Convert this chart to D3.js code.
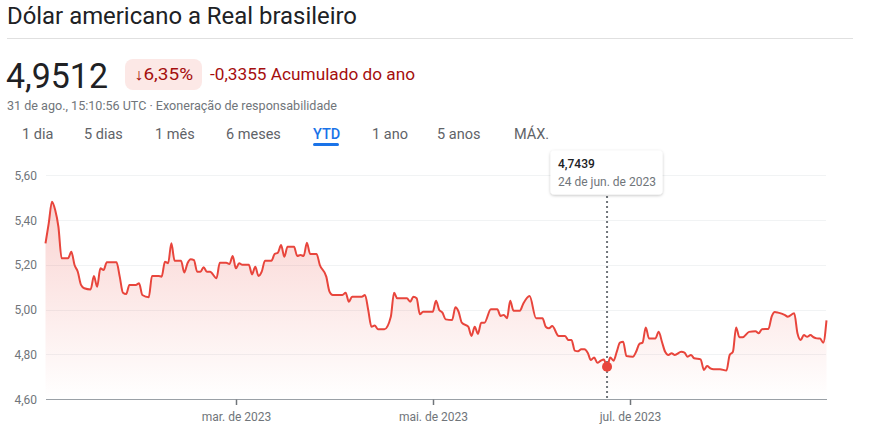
<!DOCTYPE html>
<html><head><meta charset="utf-8">
<script src="https://cdn.jsdelivr.net/npm/d3@7"></script>
<style>
html,body{margin:0;padding:0;background:#fff;}
svg{display:block;font-family:Roboto,Arial,sans-serif;}
</style></head>
<body><svg id="c" width="878" height="424"></svg>
<script>
const title = "Dólar americano a Real brasileiro";
const price = "4,9512";
const changePct = "↓6,35%";
const changeAbs = "-0,3355 Acumulado do ano";
const subtitle = "31 de ago., 15:10:56 UTC · Exoneração de responsabilidade";
const tabs = ["1 dia","5 dias","1 mês","6 meses","YTD","1 ano","5 anos","MÁX."];
const activeTab = "YTD";

const dates = ["2023-01-01","2023-01-02","2023-01-03","2023-01-04","2023-01-05","2023-01-06","2023-01-08","2023-01-09","2023-01-10","2023-01-11","2023-01-12","2023-01-13","2023-01-15","2023-01-16","2023-01-17","2023-01-18","2023-01-19","2023-01-20","2023-01-23","2023-01-24","2023-01-25","2023-01-26","2023-01-27","2023-01-29","2023-01-30","2023-01-31","2023-02-02","2023-02-03","2023-02-05","2023-02-06","2023-02-07","2023-02-08","2023-02-09","2023-02-10","2023-02-12","2023-02-13","2023-02-14","2023-02-15","2023-02-16","2023-02-17","2023-02-18","2023-02-19","2023-02-20","2023-02-21","2023-02-23","2023-02-24","2023-02-26","2023-02-27","2023-02-28","2023-03-01","2023-03-02","2023-03-03","2023-03-05","2023-03-06","2023-03-07","2023-03-08","2023-03-09","2023-03-10","2023-03-12","2023-03-13","2023-03-14","2023-03-15","2023-03-16","2023-03-17","2023-03-19","2023-03-20","2023-03-21","2023-03-22","2023-03-23","2023-03-24","2023-03-25","2023-03-26","2023-03-27","2023-03-29","2023-03-30","2023-03-31","2023-04-03","2023-04-04","2023-04-05","2023-04-06","2023-04-09","2023-04-10","2023-04-11","2023-04-12","2023-04-13","2023-04-14","2023-04-16","2023-04-18","2023-04-19","2023-04-20","2023-04-23","2023-04-24","2023-04-25","2023-04-26","2023-04-27","2023-04-28","2023-05-01","2023-05-02","2023-05-03","2023-05-04","2023-05-05","2023-05-07","2023-05-08","2023-05-09","2023-05-10","2023-05-12","2023-05-13","2023-05-14","2023-05-15","2023-05-16","2023-05-17","2023-05-19","2023-05-21","2023-05-22","2023-05-23","2023-05-24","2023-05-25","2023-05-26","2023-05-28","2023-05-29","2023-05-31","2023-06-02","2023-06-04","2023-06-05","2023-06-06","2023-06-07","2023-06-09","2023-06-11","2023-06-12","2023-06-13","2023-06-14","2023-06-15","2023-06-16","2023-06-17","2023-06-18","2023-06-19","2023-06-20","2023-06-21","2023-06-22","2023-06-23","2023-06-24","2023-06-25","2023-06-26","2023-06-27","2023-06-28","2023-06-29","2023-06-30","2023-07-02","2023-07-03","2023-07-04","2023-07-05","2023-07-06","2023-07-07","2023-07-09","2023-07-10","2023-07-11","2023-07-12","2023-07-13","2023-07-14","2023-07-15","2023-07-17","2023-07-18","2023-07-19","2023-07-20","2023-07-21","2023-07-23","2023-07-24","2023-07-25","2023-07-26","2023-07-27","2023-07-29","2023-07-31","2023-08-01","2023-08-02","2023-08-03","2023-08-04","2023-08-05","2023-08-07","2023-08-09","2023-08-10","2023-08-11","2023-08-13","2023-08-14","2023-08-15","2023-08-16","2023-08-18","2023-08-19","2023-08-21","2023-08-22","2023-08-23","2023-08-24","2023-08-25","2023-08-26","2023-08-27","2023-08-28","2023-08-29","2023-08-30","2023-08-31"];
const values = [5.296,5.385,5.482,5.445,5.370,5.229,5.229,5.258,5.199,5.169,5.110,5.095,5.090,5.150,5.102,5.184,5.177,5.211,5.211,5.147,5.075,5.069,5.110,5.110,5.117,5.065,5.055,5.150,5.150,5.147,5.214,5.207,5.296,5.218,5.218,5.165,5.207,5.225,5.221,5.169,5.169,5.189,5.169,5.169,5.140,5.209,5.209,5.203,5.239,5.184,5.207,5.200,5.200,5.157,5.191,5.150,5.169,5.218,5.218,5.248,5.254,5.288,5.236,5.281,5.281,5.239,5.244,5.239,5.299,5.248,5.248,5.248,5.199,5.147,5.080,5.065,5.065,5.075,5.035,5.057,5.057,5.065,4.998,4.923,4.929,4.912,4.912,4.968,5.075,5.050,5.050,5.035,5.057,5.050,4.979,4.990,4.990,5.039,4.998,4.986,4.956,4.953,5.010,4.990,4.941,4.923,4.882,4.923,4.891,4.941,4.941,5.001,5.001,4.971,4.976,4.961,5.039,4.995,4.995,5.025,5.060,4.961,4.961,4.923,4.916,4.926,4.882,4.882,4.864,4.864,4.816,4.813,4.822,4.822,4.807,4.774,4.786,4.762,4.771,4.777,4.7439,4.786,4.771,4.811,4.852,4.856,4.792,4.789,4.811,4.846,4.852,4.920,4.871,4.871,4.901,4.856,4.811,4.797,4.804,4.797,4.811,4.807,4.789,4.797,4.782,4.777,4.730,4.747,4.737,4.733,4.733,4.727,4.797,4.811,4.920,4.876,4.876,4.900,4.903,4.894,4.912,4.913,4.968,4.989,4.986,4.976,4.968,4.983,4.894,4.864,4.886,4.878,4.886,4.876,4.871,4.870,4.852,4.9512];

const yTicks = [4.6,4.8,5.0,5.2,5.4,5.6];
const xTickDates = ["2023-03-01","2023-05-01","2023-07-01"];
const xTickLabels = ["mar. de 2023","mai. de 2023","jul. de 2023"];

const tipDate = "2023-06-24";
const tipValue = "4,7439";
const tipLabel = "24 de jun. de 2023";

const parse = d3.utcParse("%Y-%m-%d");
const data = dates.map((d,i)=>({date:parse(d), value:values[i]}));

const svg = d3.select("#c");
const RED = "#e8453c";

// header
svg.append("text").attr("x",7).attr("y",24).attr("font-size",23).attr("fill","#202124")
  .attr("textLength",350).attr("lengthAdjust","spacingAndGlyphs").text(title);
svg.append("line").attr("x1",7).attr("x2",853).attr("y1",38.5).attr("y2",38.5).attr("stroke","#e0e0e0");
svg.append("text").attr("x",6).attr("y",88).attr("font-size",35).attr("fill","#202124")
  .attr("textLength",102).attr("lengthAdjust","spacingAndGlyphs").text(price);
svg.append("rect").attr("x",125).attr("y",59).attr("width",77).attr("height",31).attr("rx",8).attr("fill","#fce8e6");
svg.append("text").attr("x",134).attr("y",80).attr("font-size",16).attr("fill","#a50e0e")
  .attr("textLength",59).attr("lengthAdjust","spacingAndGlyphs").text(changePct);
svg.append("text").attr("x",210).attr("y",80).attr("font-size",16.5).attr("fill","#a50e0e")
  .attr("textLength",205).attr("lengthAdjust","spacingAndGlyphs").text(changeAbs);
svg.append("text").attr("x",7).attr("y",110).attr("font-size",12).attr("fill","#70757a")
  .attr("textLength",330).attr("lengthAdjust","spacingAndGlyphs").text(subtitle);

const tabX = [22,84,155,226,313,372,437,514];
tabs.forEach((t,i)=>{
  const active = t===activeTab;
  svg.append("text").attr("x",tabX[i]).attr("y",139).attr("font-size",14.5)
    .attr("font-weight",active?500:400)
    .attr("fill",active?"#1a73e8":"#5f6368").text(t);
  if(active) svg.append("rect").attr("x",tabX[i]).attr("y",143).attr("width",26).attr("height",3).attr("rx",1.5).attr("fill","#1a73e8");
});

// chart
const x = d3.scaleUtc().domain([parse("2023-01-01"), parse("2023-08-31")]).range([45.5, 826.5]);
const y = d3.scaleLinear().domain([4.6,5.6]).range([399,175.3]);
const loc = d3.formatLocale({decimal:",",thousands:".",grouping:[3],currency:["R$",""]});
const fy = loc.format(".2f");

const defs = svg.append("defs");
const grad = defs.append("linearGradient").attr("id","g").attr("x1",0).attr("x2",0)
  .attr("gradientUnits","userSpaceOnUse").attr("y1",y(5.5)).attr("y2",y(4.6));
grad.append("stop").attr("offset",0).attr("stop-color",RED).attr("stop-opacity",0.24);
grad.append("stop").attr("offset",1).attr("stop-color",RED).attr("stop-opacity",0);

// grid
svg.append("g").selectAll("line").data(yTicks.filter(v=>v>4.6)).join("line")
  .attr("x1",46).attr("x2",826).attr("y1",d=>Math.round(y(d))+0.5).attr("y2",d=>Math.round(y(d))+0.5)
  .attr("stroke","#f1f3f4");
svg.append("g").selectAll("text").data(yTicks).join("text")
  .attr("x",37).attr("y",d=>y(d)+4.5).attr("text-anchor","end").attr("font-size",12).attr("fill","#70757a")
  .text(d=>fy(d));

const area = d3.area().x(d=>x(d.date)).y0(y(4.6)).y1(d=>y(d.value)).curve(d3.curveMonotoneX);
const line = d3.line().x(d=>x(d.date)).y(d=>y(d.value)).curve(d3.curveMonotoneX);
svg.append("path").datum(data).attr("d",area).attr("fill","url(#g)");
svg.append("path").datum(data).attr("d",line).attr("fill","none").attr("stroke",RED).attr("stroke-width",2).attr("stroke-linejoin","round");

// x axis
svg.append("line").attr("x1",46).attr("x2",827).attr("y1",399.5).attr("y2",399.5).attr("stroke","#9aa0a6");
xTickDates.forEach((d,i)=>{
  const xx = Math.round(x(parse(d)))+0.5;
  svg.append("line").attr("x1",xx).attr("x2",xx).attr("y1",399.5).attr("y2",405).attr("stroke","#70757a").attr("stroke-width",1.5);
  svg.append("text").attr("x",xx).attr("y",421).attr("text-anchor","middle").attr("font-size",12).attr("fill","#70757a").text(xTickLabels[i]);
});

// tooltip
const tx = x(parse(tipDate));
const tv = values[dates.indexOf(tipDate)];
svg.append("line").attr("x1",tx).attr("x2",tx).attr("y1",196).attr("y2",399).attr("stroke","#70757a").attr("stroke-width",2).attr("stroke-dasharray","2,3");
svg.append("circle").attr("cx",tx).attr("cy",y(tv)).attr("r",5).attr("fill",RED);
const f = defs.append("filter").attr("id","sh").attr("x","-20%").attr("y","-30%").attr("width","140%").attr("height","160%");
f.append("feDropShadow").attr("dx",0).attr("dy",1).attr("stdDeviation",1.5).attr("flood-color","#000").attr("flood-opacity",0.25);
svg.append("rect").attr("x",550.5).attr("y",150.5).attr("width",112).attr("height",44).attr("rx",4).attr("fill","#fff").attr("filter","url(#sh)");
svg.append("text").attr("x",558).attr("y",168).attr("font-size",12).attr("font-weight",500).attr("fill","#202124").text(tipValue);
svg.append("text").attr("x",558).attr("y",185.5).attr("font-size",12).attr("fill","#70757a").text(tipLabel);
</script></body></html>
